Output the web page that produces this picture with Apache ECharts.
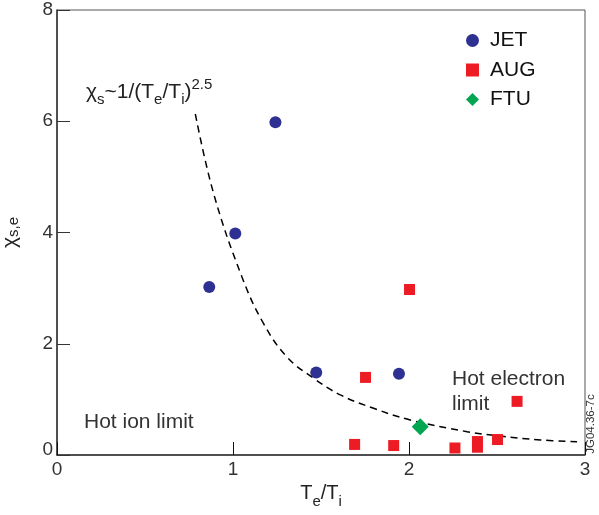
<!DOCTYPE html>
<html>
<head>
<meta charset="utf-8">
<script src="https://cdn.jsdelivr.net/npm/echarts@6/dist/echarts.min.js"></script>
<style>
html,body{margin:0;padding:0;background:#fff;}
#chart{width:599px;height:515px;}
</style>
</head>
<body>
<div id="chart"></div>
<script>
// Data
var jetX = [0.865, 1.013, 1.241, 1.473, 1.943];
var jetY = [3.02, 3.98, 5.98, 1.485, 1.46];
var augX = [2.003, 1.753, 1.691, 1.913, 2.261, 2.389, 2.389, 2.503, 2.614];
var augY = [2.975, 1.395, 0.19, 0.17, 0.126, 0.242, 0.14, 0.278, 0.964];
var ftuX = [2.064];
var ftuY = [0.508];
// dashed trend curve
var curveX = [0.786, 0.890, 1.051, 1.174, 1.307, 1.458, 1.610, 1.799, 2.007, 2.330, 2.519, 2.747, 2.955];
var curveY = [6.13, 4.70, 3.20, 2.36, 1.76, 1.38, 1.08, 0.84, 0.63, 0.42, 0.34, 0.27, 0.24];
var xTicks = [0, 1, 2, 3];
var yTicks = [0, 2, 4, 6, 8];

function pairs(xs, ys) { return xs.map(function (x, i) { return [x, ys[i]]; }); }

var FONT = 'Liberation Sans, Arial, sans-serif';
var chart = echarts.init(document.getElementById('chart'));
chart.setOption({
  animation: false,
  backgroundColor: '#fff',
  grid: { left: 57, right: 14, top: 10, bottom: 60, show: true, borderColor: '#555', borderWidth: 1,
          containLabel: false, outerBoundsMode: 'none' },
  xAxis: {
    type: 'value', min: xTicks[0], max: xTicks[xTicks.length - 1], interval: 1,
    axisLine: { show: true, lineStyle: { color: '#333', width: 1.5 } },
    axisTick: { show: true, inside: true, length: 13, lineStyle: { color: '#111', width: 1 } },
    axisLabel: { fontFamily: FONT, fontSize: 19, color: '#333', margin: 5 },
    splitLine: { show: false },
    name: '{b|T}{s|e}{b|/T}{s|i}', nameLocation: 'middle', nameGap: 22,
    nameTextStyle: { fontFamily: FONT, color: '#222', rich: {
      b: { fontFamily: FONT, fontSize: 20, color: '#222', lineHeight: 26, verticalAlign: 'top' },
      s: { fontFamily: FONT, fontSize: 15, color: '#222', lineHeight: 26, verticalAlign: 'top', padding: [10, 0, 0, 0] } } }
  },
  yAxis: {
    type: 'value', min: yTicks[0], max: yTicks[yTicks.length - 1], interval: 2,
    axisLine: { show: true, lineStyle: { color: '#333', width: 1.5 } },
    axisTick: { show: true, inside: true, length: 13, lineStyle: { color: '#333', width: 1 } },
    axisLabel: { fontFamily: FONT, fontSize: 19, color: '#333', margin: 4,
      formatter: function (v) { return v === 0 ? '{z|0}' : String(v); },
      rich: { z: { fontFamily: FONT, fontSize: 19, color: '#333', padding: [0, 0, 10, 0] } } },
    splitLine: { show: false },
    name: '{b|χ}{s|s,e}', nameLocation: 'middle', nameGap: 34, nameRotate: 90,
    nameTextStyle: { fontFamily: FONT, color: '#222', rich: {
      b: { fontFamily: FONT, fontSize: 21, color: '#222', lineHeight: 26 },
      s: { fontFamily: FONT, fontSize: 15, color: '#222', lineHeight: 26, padding: [8, 0, 0, 0] } } }
  },
  legend: {
    orient: 'vertical', left: 466, top: 30, padding: 0, itemGap: 8.5,
    itemWidth: 13, itemHeight: 13,
    textStyle: { fontFamily: FONT, fontSize: 21, color: '#111', padding: [0, 0, 0, 6], lineHeight: 20 },
    data: [
      { name: 'JET', icon: 'circle' },
      { name: 'AUG', icon: 'rect' },
      { name: 'FTU', icon: 'diamond' }
    ]
  },
  series: [
    { name: 'curve', type: 'line', data: pairs(curveX, curveY), smooth: 0.4, showSymbol: false, symbol: 'none',
      lineStyle: { color: '#000', width: 1.5, type: [7, 5] }, z: 1, silent: true },
    { name: 'JET', type: 'scatter', data: pairs(jetX, jetY), symbol: 'circle', symbolSize: 12,
      itemStyle: { color: '#2e3192', opacity: 1 }, z: 3 },
    { name: 'AUG', type: 'scatter', data: pairs(augX, augY), symbol: 'rect', symbolSize: 11,
      itemStyle: { color: '#ed1c24', opacity: 1 }, z: 3 },
    { name: 'FTU', type: 'scatter', data: pairs(ftuX, ftuY), symbol: 'diamond', symbolSize: 17,
      itemStyle: { color: '#00a651', opacity: 1 }, z: 3 }
  ],
  graphic: [
    { type: 'text', left: 86, top: 77, z: 10, style: {
        text: '{b|χ}{s|s}{b|~1/(T}{s|e}{b|/T}{s|i}{b|)}{p|2.5}',
        rich: {
          b: { fontFamily: FONT, fontSize: 21, fill: '#222', lineHeight: 26, verticalAlign: 'top' },
          s: { fontFamily: FONT, fontSize: 15, fill: '#222', lineHeight: 26, verticalAlign: 'top', padding: [10, 0, 0, 0] },
          p: { fontFamily: FONT, fontSize: 15, fill: '#222', lineHeight: 26, verticalAlign: 'top', padding: [-5, 0, 0, 0] }
        } } },
    { type: 'text', left: 84, top: 412, z: 10, style: { text: 'Hot ion limit', font: '21px ' + FONT, fill: '#333' } },
    { type: 'text', left: 452, top: 367, z: 10, style: { text: 'Hot electron\nlimit', font: '21px ' + FONT, fill: '#333', lineHeight: 25 } },
    { type: 'text', x: 591, y: 424, rotation: Math.PI / 2, z: 10, style: { text: 'JG04.36-7c', font: '11.5px ' + FONT, fill: '#333', align: 'center', verticalAlign: 'middle' } }
  ]
});
</script>
</body>
</html>
